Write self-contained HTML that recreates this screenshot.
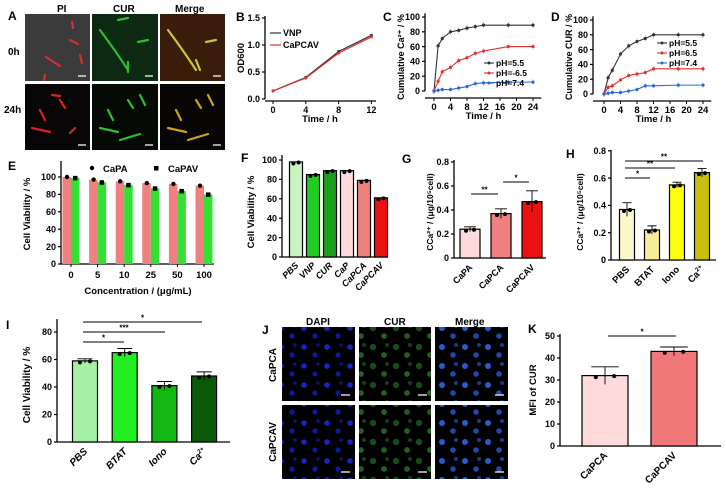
<!DOCTYPE html>
<html><head><meta charset="utf-8">
<style>
html,body{margin:0;padding:0;background:#fff;}
svg{display:block;font-family:"Liberation Sans",Arial,sans-serif;font-weight:bold;}
</style></head>
<body>
<svg id="fig" width="726" height="489" viewBox="0 0 726 489" xmlns="http://www.w3.org/2000/svg">
<defs>
<pattern id="bluecells" width="23" height="19" patternUnits="userSpaceOnUse">
<circle cx="5" cy="5" r="2.8" fill="#1a22c8"/><circle cx="16" cy="13" r="2.6" fill="#1018a0"/><circle cx="19" cy="3" r="1.8" fill="#0c1480"/></pattern>
<pattern id="greencells" width="23" height="19" patternUnits="userSpaceOnUse">
<circle cx="5" cy="5" r="3.2" fill="#1a4a1a"/><circle cx="16" cy="13" r="2.9" fill="#245e24"/><circle cx="19" cy="3" r="2" fill="#173d17"/></pattern>
<pattern id="mergecells" width="23" height="19" patternUnits="userSpaceOnUse">
<circle cx="5" cy="5" r="3" fill="#2a5ad0"/><circle cx="16" cy="13" r="2.8" fill="#1f48b0"/><circle cx="19" cy="3" r="2" fill="#1a3a90"/></pattern>
</defs>

<g>
<text x="8" y="20" font-size="12">A</text>
<text x="57" y="12" font-size="10">PI</text>
<text x="113" y="12" font-size="10">CUR</text>
<text x="175" y="12" font-size="10">Merge</text>
<text x="8" y="55" font-size="10">0h</text>
<text x="4" y="113" font-size="10">24h</text>
<rect x="25" y="14" width="65" height="67" fill="#3b3b3b"/>
<rect x="92" y="14" width="66" height="67" fill="#0c2a12"/>
<rect x="160" y="14" width="65" height="67" fill="#3a1c0a"/>
<rect x="25" y="84" width="65" height="66" fill="#080606"/>
<rect x="92" y="84" width="66" height="66" fill="#050a05"/>
<rect x="160" y="84" width="65" height="66" fill="#080605"/>
<g fill="none" stroke-width="2.2" stroke-linecap="round">
<path d="M46 57 L60 66 M70 40 L78 44 M80 55 L82 63 M72 22 L73 28 M45 75 L44 80" stroke="#d83030"/>
<path d="M100 30 Q115 50 128 70 M138 42 L148 40 M118 20 L128 18 M128 62 L128 72" stroke="#2fbf2f"/>
<path d="M168 30 Q183 50 196 70 M206 42 L216 40 M196 60 L200 70" stroke="#c9c934"/>
<path d="M32 128 L50 132 M40 110 L45 120 M60 100 L65 108 M70 133 L75 128 M52 95 L60 96" stroke="#e02020"/>
<path d="M100 128 L118 132 M108 110 L113 120 M128 100 L133 108 M120 140 L140 134 M140 95 L145 105" stroke="#2fbf2f"/>
<path d="M168 128 L186 132 M176 110 L181 120 M196 100 L201 108 M188 140 L208 134 M208 95 L213 105" stroke="#d0a020"/>
</g>
<g stroke="#fff" stroke-width="1.2">
<path d="M78 76 H86 M145 76 H153 M213 76 H221 M78 145 H86 M145 145 H153 M213 145 H221"/></g>
</g>

<g>
<text x="262" y="334" font-size="12">J</text>
<text x="306" y="325" font-size="10">DAPI</text>
<text x="384" y="325" font-size="10">CUR</text>
<text x="455" y="325" font-size="10">Merge</text>
<text transform="translate(276,365) rotate(-90)" text-anchor="middle" font-size="10">CaPCA</text>
<text transform="translate(276,442) rotate(-90)" text-anchor="middle" font-size="10">CaPCAV</text>
<rect x="282" y="327" width="73" height="74" fill="#000"/>
<rect x="282" y="327" width="73" height="74" fill="url(#bluecells)"/>
<rect x="359" y="327" width="72" height="74" fill="#000"/>
<rect x="359" y="327" width="72" height="74" fill="url(#greencells)"/>
<rect x="435" y="327" width="73" height="74" fill="#000"/>
<rect x="435" y="327" width="73" height="74" fill="url(#mergecells)"/>
<rect x="282" y="405" width="73" height="74" fill="#000"/>
<rect x="282" y="405" width="73" height="74" fill="url(#bluecells)"/>
<rect x="359" y="405" width="72" height="74" fill="#000"/>
<rect x="359" y="405" width="72" height="74" fill="url(#greencells)"/>
<rect x="435" y="405" width="73" height="74" fill="#000"/>
<rect x="435" y="405" width="73" height="74" fill="url(#mergecells)"/>
<g stroke="#fff" stroke-width="1.2">
<path d="M341 395 H350 M418 395 H427 M495 395 H504 M341 472 H350 M418 472 H427 M495 472 H504"/></g>
</g>
</svg>
<script>
const SVGNS="http://www.w3.org/2000/svg";
const fig=document.getElementById('fig');

const bTimes=[0,4,8,12];
const bVNP=[0.15,0.40,0.88,1.18];
const bCaPCAV=[0.15,0.39,0.85,1.15];
const bYTicks=[0,0.5,1.0,1.5];
const bYLabels=["0.0","0.5","1.0","1.5"];

const relTimes=[0,1,2,4,6,8,10,12,18,24];
const cPH55=[0,61,71,80,82,85,87,89,89,89];
const cPH65=[0,13,26,32,41,45,51,54,60,60];
const cPH74=[0,1,2,2,4,6,10,11,12,12];
const dPH55=[0,22,32,54,65,71,75,80,80,80];
const dPH65=[0,9,11,19,25,27,29,34,34,34];
const dPH74=[0,1,2,2,4,6,11,11,12,12];
const relXTicks=[0,4,8,12,16,20,24];
const relYTicks=[0,20,40,60,80,100];

const eCats=["0","5","10","25","50","100"];
const eCaPA=[100,97,95,93,92,90];
const eCaPAV=[99,94,91,87,84,80];
const pctTicks=[0,20,40,60,80,100];

const fCats=["PBS","VNP","CUR","CaP","CaPCA","CaPCAV"];
const fVals=[98,85,89,89,79,61];
const gCats=["CaPA","CaPCA","CaPCAV"];
const gVals=[0.24,0.37,0.47];
const gErr=[0.02,0.04,0.09];
const hCats=["PBS","BTAT","Iono","Ca2+"];
const hVals=[0.37,0.22,0.55,0.64];
const hErr=[0.05,0.03,0.02,0.03];
const conc08Ticks=[0,0.2,0.4,0.6,0.8];
const iCats=["PBS","BTAT","Iono","Ca2+"];
const iVals=[59,65,41,48];
const iErr=[1.5,3,3,3];
const iTicks=[0,20,40,60,80];
const kCats=["CaPCA","CaPCAV"];
const kVals=[32,43];
const kErr=[4,2];
const kTicks=[0,10,20,30,40,50];

function mk(tag,attrs,parent){const e=document.createElementNS(SVGNS,tag);for(const k in attrs)e.setAttribute(k,attrs[k]);(parent||fig).appendChild(e);return e;}
function grp(name){const g=mk('g',{});return g;}
function txt(g,x,y,s,opts){const t=mk('text',Object.assign({x:x,y:y,'font-size':9},opts||{}),g);t.textContent=s;return t;}
function fmt(v){return Number.isInteger(v)?String(v):v.toFixed(1);}

function yAxis(g,ax,ys,ticks,labels,top){
  const l=mk('line',{x1:ax,x2:ax,y1:ys(ticks[0]),y2:top,stroke:'#000','stroke-width':1.3},g);
  
  ticks.forEach((v,i)=>{
    const y=ys(v);
    mk('line',{x1:ax-3,x2:ax,y1:y,y2:y,stroke:'#000','stroke-width':1.2},g);
    const t=txt(g,ax-5,y+3.2,labels?labels[i]:fmt(v),{'text-anchor':'end'});
    
  });
}
function xAxisLine(g,x1,x2,y){
  const l=mk('line',{x1:x1,x2:x2,y1:y,y2:y,stroke:'#000','stroke-width':1.3},g);
  
}
function yTitle(g,x,y,s,fs){
  const t=txt(g,0,0,s,{transform:`translate(${x},${y}) rotate(-90)`,'text-anchor':'middle','font-size':fs||9.5});
  return t;
}
function errBar(g,x,y1,y2,w){
  mk('path',{d:`M${x} ${y1}V${y2}M${x-w} ${y1}H${x+w}`,stroke:'#000','stroke-width':0.9,fill:'none'},g);
}
function rotLabels(g,cats,xs,y,italic,fs){
  cats.forEach((c,i)=>{
    const t=mk('text',{transform:`translate(${xs(i)+3},${y}) rotate(-45)`,'text-anchor':'end','font-size':fs||9.5,'font-style':italic?'italic':'normal'},g);
    if(c==="Ca2+"){t.textContent="Ca";const s=mk('tspan',{dy:-4,'font-size':6},t);s.textContent="2+";}
    else t.textContent=c;
    
  });
}
function sig(g,x1,x2,y,s){
  mk('line',{x1:x1,x2:x2,y1:y,y2:y,stroke:'#000','stroke-width':1},g);
  const t=txt(g,(x1+x2)/2,y-1.5,s,{'text-anchor':'middle','font-size':8});
  
}
function bars(g,cats,vals,errs,xs,ys,w,colors,name){
  cats.forEach((c,i)=>{
    const y=ys(vals[i]),y0=ys(0);
    const r=mk('rect',{x:xs(i)-w/2,y:y,width:w,height:y0-y,fill:colors[i],stroke:'#000','stroke-width':1.2},g);
    
    
    if(errs){errBar(g,xs(i),ys(vals[i]+errs[i]),ys(vals[i]-errs[i]),w*0.3);}
    mk('circle',{cx:xs(i)-w*0.2,cy:y+1.5,r:2,fill:'#000'},g);
    mk('circle',{cx:xs(i)+w*0.2,cy:y+0.5,r:2,fill:'#000'},g);
  });
}

(function(){
  const g=grp('panel-b');
  const xs=t=>273+t*8.2, ys=v=>99-v*54;
  txt(g,236,21,'B',{'font-size':12});
  yAxis(g,265,ys,bYTicks,bYLabels,16);
  xAxisLine(g,265,376,101);
  bTimes.forEach(t=>{mk('line',{x1:xs(t),x2:xs(t),y1:101,y2:104,stroke:'#000'},g);const l=txt(g,xs(t),113,String(t),{'text-anchor':'middle'});});
  const tt=txt(g,320,122,'Time / h',{'text-anchor':'middle','font-size':9.5});
  yTitle(g,244,58,'OD600');
  [[bVNP,'#333'],[bCaPCAV,'#e03030']].forEach(([arr,col],k)=>{
    const p=mk('polyline',{points:bTimes.map((t,i)=>xs(t)+','+ys(arr[i])).join(' '),fill:'none',stroke:col,'stroke-width':1.2},g);
    
    bTimes.forEach((t,i)=>mk('circle',{cx:xs(t),cy:ys(arr[i]),r:1.5,fill:col},g));
  });
  mk('line',{x1:270,x2:281,y1:33,y2:33,stroke:'#333','stroke-width':1.2},g);
  const l1=txt(g,283,36,'VNP',{'font-size':9});
  mk('line',{x1:270,x2:281,y1:45,y2:45,stroke:'#e03030','stroke-width':1.2},g);
  const l2=txt(g,283,48,'CaPCAV',{'font-size':9});
})();

function releasePanel(name,label,ax,x0,y0,axisY,ytitle,sets,legX,legY){
  const g=grp(name);
  const xs=t=>x0+t*4.125, ys=v=>y0-v*0.74;
  txt(g,ax-42,21,label,{'font-size':12});
  yAxis(g,ax,ys,relYTicks,null,ys(105));
  xAxisLine(g,ax,xs(26),axisY);
  relXTicks.forEach(t=>{mk('line',{x1:xs(t),x2:xs(t),y1:axisY,y2:axisY+3,stroke:'#000'},g);const l=txt(g,xs(t),axisY+12,String(t),{'text-anchor':'middle','font-size':9.5});});
  const tt=txt(g,xs(12),axisY+21,'Time / h',{'text-anchor':'middle','font-size':9.5});
  yTitle(g,ax-21,57,ytitle,9);
  sets.forEach(([arr,col,lab],k)=>{
    const p=mk('polyline',{points:relTimes.map((t,i)=>xs(t)+','+ys(arr[i])).join(' '),fill:'none',stroke:col,'stroke-width':1.1},g);
    
    relTimes.forEach((t,i)=>{mk('line',{x1:xs(t),x2:xs(t),y1:ys(arr[i])-3,y2:ys(arr[i])+3,stroke:col,'stroke-width':0.5,opacity:0.6},g);mk('circle',{cx:xs(t),cy:ys(arr[i]),r:1.6,fill:col},g);});
    const ly=legY+k*10;
    mk('line',{x1:legX-12,x2:legX-2,y1:ly-3,y2:ly-3,stroke:col,'stroke-width':1.1},g);
    mk('circle',{cx:legX-7,cy:ly-3,r:1.5,fill:col},g);
    const l=txt(g,legX,ly,lab,{'font-size':8.5});
  });
}
releasePanel('panel-c','C',425,434,91,98,'Cumulative Ca²⁺ / %',[[cPH55,'#333','pH=5.5'],[cPH65,'#e03030','pH=-6.5'],[cPH74,'#2a6ad8','pH=7.4']],496,66);
releasePanel('panel-d','D',593,604,94,101,'Cumulative CUR / %',[[dPH55,'#333','pH=5.5'],[dPH65,'#e03030','pH=6.5'],[dPH74,'#2a6ad8','pH=7.4']],669,46);

(function(){
  const g=grp('panel-e');
  const ys=v=>264-v*0.87, xs=i=>71+i*26.6;
  txt(g,8,170,'E',{'font-size':12});
  yAxis(g,61,ys,pctTicks,null,161);
  xAxisLine(g,61,214,264);
  eCats.forEach((c,i)=>{
    const yA=ys(eCaPA[i]),yB=ys(eCaPAV[i]);
    const a=mk('rect',{x:xs(i)-8.5,y:yA,width:8.5,height:264-yA,fill:'#f08080'},g);
    
    const b=mk('rect',{x:xs(i),y:yB,width:8.5,height:264-yB,fill:'#33e033'},g);
    
    mk('circle',{cx:xs(i)-4,cy:yA,r:2.2,fill:'#000'},g);
    mk('rect',{x:xs(i)+2,y:yB-2,width:4.5,height:4.5,fill:'#000'},g);
    mk('line',{x1:xs(i),x2:xs(i),y1:264,y2:267,stroke:'#000'},g);
    const l=txt(g,xs(i),278,c,{'text-anchor':'middle','font-size':9.5});
  });
  const tt=txt(g,138,294,'Concentration / (μg/mL)',{'text-anchor':'middle','font-size':9.5});
  yTitle(g,30,214,'Cell Viability / %');
  mk('circle',{cx:92,cy:168,r:2.2,fill:'#000'},g);
  const l1=txt(g,103,172,'CaPA',{'font-size':9.5});
  mk('rect',{x:154,y:166,width:4.5,height:4.5,fill:'#000'},g);
  const l2=txt(g,168,172,'CaPAV',{'font-size':9.5});
})();

(function(){
  const g=grp('panel-f');
  const ys=v=>257-v*0.97, xs=i=>296+i*17;
  txt(g,241,162,'F',{'font-size':12});
  yAxis(g,282,ys,pctTicks,null,155);
  xAxisLine(g,282,388,257);
  bars(g,fCats,fVals,null,xs,ys,13,['#c8f5c0','#22cc22','#1e9e1e','#ffdada','#f08080','#ee1111'],'bar');
  rotLabels(g,fCats,xs,266,true,9);
  yTitle(g,254,212,'Cell Viability / %');
})();

(function(){
  const g=grp('panel-g');
  const ys=v=>258-v*120, xs=i=>470+i*31;
  txt(g,402,163,'G',{'font-size':12});
  yAxis(g,454,ys,conc08Ticks,null,160);
  xAxisLine(g,454,546,258);
  bars(g,gCats,gVals,gErr,xs,ys,20,['#ffdada','#f28080','#ee1111'],'bar');
  rotLabels(g,gCats,xs,268,false,9);
  sig(g,471,498,194,'**');sig(g,503,529,182,'*');
  yTitle(g,433,212,'CCa²⁺ / (μg/10⁵cell)',8.5);
})();

(function(){
  const g=grp('panel-h');
  const ys=v=>260-v*136.5, xs=i=>627+i*25;
  txt(g,566,158,'H',{'font-size':12});
  yAxis(g,611,ys,conc08Ticks,null,150);
  xAxisLine(g,611,716,260);
  bars(g,hCats,hVals,hErr,xs,ys,15,['#fdf8cc','#f6ee9a','#ffff10','#c8bf10'],'bar');
  rotLabels(g,hCats,xs,270,false,9.5);
  sig(g,625,650,178,'*');sig(g,625,675,168,'**');sig(g,625,703,161,'**');
  yTitle(g,583,212,'CCa²⁺ / (μg/10⁵cell)',8.5);
})();

(function(){
  const g=grp('panel-i');
  const ys=v=>442-v*1.375, xs=i=>85+i*39.7;
  txt(g,6,329,'I',{'font-size':12});
  yAxis(g,57,ys,iTicks,null,319);
  xAxisLine(g,57,230,442);
  bars(g,iCats,iVals,iErr,xs,ys,25,['#a4f0a4','#22ee22','#11b811','#0a5a0a'],'bar');
  rotLabels(g,iCats,xs,452,true,10);
  sig(g,83,124,342,'*');sig(g,83,165,332,'***');sig(g,83,202,322,'*');
  yTitle(g,30,385,'Cell Viability / %',10);
})();

(function(){
  const g=grp('panel-k');
  const ys=v=>446-v*2.2, xs=i=>605+i*69;
  txt(g,528,333,'K',{'font-size':12});
  yAxis(g,560,ys,kTicks,null,334);
  xAxisLine(g,560,721,446);
  bars(g,kCats,kVals,kErr,xs,ys,46,['#ffdada','#f07878'],'bar');
  rotLabels(g,kCats,xs,456,false,10);
  sig(g,608,676,336,'*');
  yTitle(g,536,390,'MFI of CUR',9.5);
})();
</script>
</body></html>
